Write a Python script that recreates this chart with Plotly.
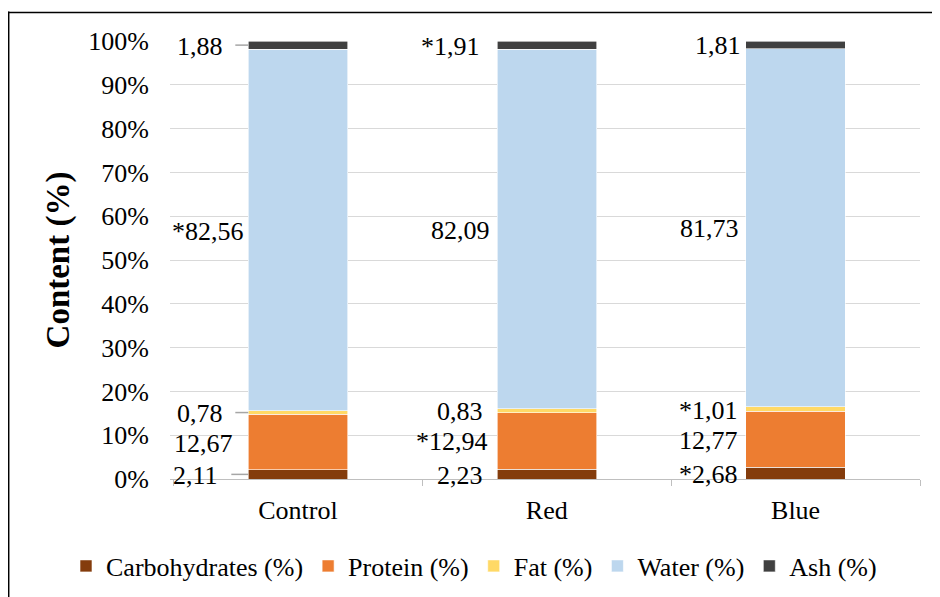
import plotly.graph_objects as go

categories = ["Control", "Red", "Blue"]
carbohydrates = [2.11, 2.23, 2.68]
protein = [12.67, 12.94, 12.77]
fat = [0.78, 0.83, 1.01]
water = [82.56, 82.09, 81.73]
ash = [1.88, 1.91, 1.81]

series_names = ["Carbohydrates (%)", "Protein (%)", "Fat (%)", "Water (%)", "Ash (%)"]
label_texts = {
    "Carbohydrates (%)": ["2,11", "2,23", "*2,68"],
    "Protein (%)": ["12,67", "*12,94", "12,77"],
    "Fat (%)": ["0,78", "0,83", "*1,01"],
    "Water (%)": ["*82,56", "82,09", "81,73"],
    "Ash (%)": ["1,88", "*1,91", "1,81"],
}
colors = ["#843C0C", "#ED7D31", "#FFD966", "#BDD7EE", "#404040"]

FONT = "Liberation Serif, Times New Roman, serif"
OFF = 8  # page body margin
W, H = 940 - OFF, 597 - OFF
L, T = 170 - OFF, 41 - OFF
R = W - (920 - OFF)
B = H - (479 - OFF)

series_values = [carbohydrates, protein, fat, water, ash]

fig = go.Figure()
for name, vals, col in zip(series_names, series_values, colors):
    fig.add_trace(go.Bar(
        x=categories, y=vals, name=name,
        marker=dict(color=col, line=dict(color="white", width=0.6)),
        width=0.4,
    ))

# label x shifts (pixels, right edge relative to category centre)
xshifts = {
    "Carbohydrates (%)": [-78, -62, -56],
    "Protein (%)": [-63, -57, -56],
    "Fat (%)": [-73, -62, -56],
    "Water (%)": [-52, -55, -55],
    "Ash (%)": [-73, -65, -53],
}
leader = {  # series -> left pixel offset of leader line (Control only)
    "Carbohydrates (%)": -67,
    "Fat (%)": -63,
    "Ash (%)": -63,
}

annotations = []
shapes = []
for ci, cat in enumerate(categories):
    totals = [s[ci] for s in series_values]
    tot = sum(totals)
    base = 0.0
    for si, name in enumerate(series_names):
        v = series_values[si][ci] / tot * 100
        mid = base + v / 2
        base += v
        annotations.append(dict(
            x=cat, y=mid, xref="x", yref="y", text=label_texts[name][ci],
            showarrow=False, xanchor="right", yanchor="middle",
            xshift=xshifts[name][ci], yshift=-1,
            font=dict(family=FONT, size=26, color="black"),
        ))
        if ci == 0 and name in leader:
            shapes.append(dict(
                type="line", xref="x", yref="y",
                x0=ci + leader[name] / 250.0, x1=ci - 0.2, y0=mid, y1=mid,
                line=dict(color="#A6A6A6", width=1.5),
            ))

pw, ph = W - L - R, H - T - B
def px2x(px):  # page px -> paper
    return (px - OFF - L) / pw
def py2y(py):
    return (H - B - (py - OFF)) / ph

# outer frame (top & left visible)
shapes.append(dict(type="line", xref="paper", yref="paper",
                   x0=px2x(8.7), x1=px2x(8.7), y0=py2y(11.5), y1=py2y(610),
                   line=dict(color="black", width=1.5)))
shapes.append(dict(type="line", xref="paper", yref="paper",
                   x0=px2x(8), x1=px2x(960), y0=py2y(12.5), y1=py2y(12.5),
                   line=dict(color="black", width=1.5)))

fig.update_layout(
    width=W, height=H,
    margin=dict(l=L, r=R, t=T, b=B, autoexpand=False),
    barmode="stack", barnorm="percent",
    plot_bgcolor="white", paper_bgcolor="white",
    font=dict(family=FONT, size=26, color="black"),
    showlegend=True,
    legend=dict(orientation="h",
                x=px2x(66), xanchor="left",
                y=py2y(566), yanchor="middle",
                font=dict(family=FONT, size=26, color="black"),
                itemwidth=30, traceorder="normal"),
    annotations=annotations,
    shapes=shapes,
    bargap=0.6,
)
fig.update_yaxes(
    range=[0, 100], dtick=10, ticksuffix="%",
    showgrid=True, gridcolor="#D9D9D9", gridwidth=1,
    zeroline=False, showline=False,
    tickfont=dict(family=FONT, size=26, color="black"),
    ticklabelstandoff=20,
    title=dict(text="<b>Content (%)</b>", font=dict(family=FONT, size=33, color="black"), standoff=8),
)
fig.update_xaxes(
    showline=True, linecolor="#BFBFBF", linewidth=1,
    ticks="outside", tickson="boundaries", ticklen=6, tickcolor="#BFBFBF",
    tickfont=dict(family=FONT, size=26, color="black"),
    ticklabelstandoff=8,
)

fig.write_html("out.html")
